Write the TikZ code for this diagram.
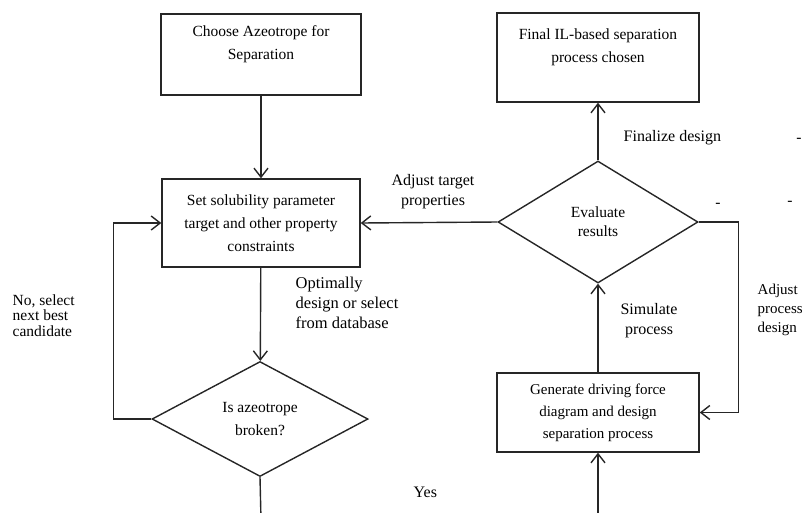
\documentclass[tikz,border=0pt]{standalone}
\usepackage{fontspec}
\setmainfont{Liberation Serif}
\usetikzlibrary{arrows.meta,shapes.geometric}

\tikzset{
  box/.style={draw, rectangle, inner sep=0pt, align=center},
  decision/.style={draw, diamond, aspect=2, inner sep=0pt, align=center},
  flow/.style={-{Straight Barb[length=9pt,width=14pt]}},
  lbl/.style={inner sep=0pt, align=left, anchor=north west},
}

\begin{document}
\begin{tikzpicture}[x=1pt, y=-1pt, line width=1.4pt, draw=black!85,
  font=\fontsize{15.5}{23}\selectfont]
\useasboundingbox (0,0) rectangle (805,512);

% left column
\node[box, minimum width=200pt, minimum height=81pt] (choose) at (261,54.5)
  {Choose Azeotrope for\\Separation\\~};
\node[box, minimum width=198pt, minimum height=88pt] (target) at (261,223)
  {Set solubility parameter\\target and other property\\constraints};
\node[decision, minimum width=216pt, minimum height=115pt] (broken) at (260,419)
  {Is azeotrope\\broken?};

% right column
\node[box, minimum width=202pt, minimum height=89pt] (final) at (598,57.5)
  {Final IL-based separation\\process chosen\\~};
\node[decision, minimum width=200pt, minimum height=122pt,
  font=\fontsize{15.5}{19}\selectfont] (evaluate) at (598,222)
  {Evaluate\\results};
\node[box, minimum width=202pt, minimum height=79pt,
  font=\fontsize{15}{22}\selectfont] (generate) at (598,412.5)
  {Generate driving force\\diagram and design\\separation process};

\coordinate (yesL) at (261,520);
\coordinate (yesR) at (598,520);

% connectors
\draw[flow] (choose) -- (target);
\draw[flow] (target) -- (broken);
\draw[flow] (broken.west) -- ++(-38,0) |- (target.west);
\draw (broken.south) -- (yesL);
\draw[flow] (yesR) -- (generate);
\draw[flow] (generate) -- (evaluate);
\draw[flow] (evaluate) -- (final);
\draw[flow] (evaluate.west) -- (target.east);
\draw[flow] (evaluate.east) -- ++(40,0) |- (generate.east);

% labels
\node[lbl, font=\fontsize{16.5}{20}\selectfont] (optlbl) at (295,276)
  {Optimally\\design or select\\from database};
\node[lbl, font=\fontsize{15.5}{15.5}\selectfont] (nolbl) at (12,294)
  {No, select\\next best\\candidate};
\node[inner sep=0pt, anchor=north, align=center,
  font=\fontsize{16}{20}\selectfont] (adjlbl) at (433,174)
  {Adjust target\\properties};
\node[lbl, font=\fontsize{16}{20}\selectfont] (finlbl) at (623,130) {Finalize design};
\node[inner sep=0pt, anchor=north, align=center,
  font=\fontsize{16}{20}\selectfont] (simlbl) at (649,303)
  {Simulate\\process};
\node[lbl, font=\fontsize{15}{19}\selectfont] (proclbl) at (757,283)
  {Adjust\\process\\design};
\node[lbl, font=\fontsize{16}{20}\selectfont] (yeslbl) at (413,486) {Yes};

% stray marks
\node[inner sep=0pt] (markA) at (718,205) {-};
\node[inner sep=0pt] (markB) at (799,140) {-};
\node[inner sep=0pt] (markC) at (790,203) {-};
\end{tikzpicture}
\end{document}
